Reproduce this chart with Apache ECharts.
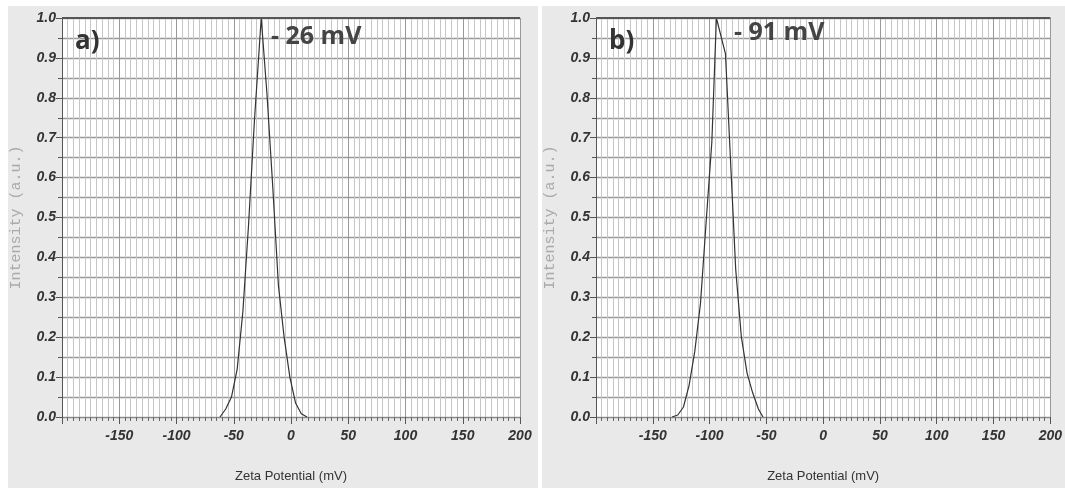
<!DOCTYPE html>
<html>
<head>
<meta charset="utf-8">
<script src="https://cdn.jsdelivr.net/npm/echarts@6/dist/echarts.min.js"></script>
<style>
  html, body { margin: 0; padding: 0; background: #fff; }
  #chart { width: 1065px; height: 488px; }
</style>
</head>
<body>
<div id="chart"></div>
<script>
// panel a) peak at -26 mV
const zetaA = [-62, -57, -52, -47, -42, -37, -32, -26, -21, -16, -11, -6, -1, 4, 9, 14];
const intensityA = [0, 0.02, 0.05, 0.12, 0.265, 0.485, 0.74, 1.0, 0.81, 0.58, 0.33, 0.20, 0.10, 0.035, 0.008, 0];

// panel b) peak at -91 mV
const zetaB = [-133, -128, -123, -118, -113, -108, -103, -98, -94, -86, -82, -77, -72, -67, -62, -57, -53];
const intensityB = [0, 0.005, 0.025, 0.08, 0.165, 0.285, 0.49, 0.69, 1.0, 0.91, 0.67, 0.37, 0.20, 0.11, 0.06, 0.02, 0];

const panelLabels = ['a)', 'b)'];
const peakLabels = ['- 26 mV', '- 91 mV'];
const xName = 'Zeta Potential (mV)';
const yName = 'Intensity (a.u.)';

const tickFont = {
  fontFamily: 'Liberation Sans, Arial, sans-serif',
  fontStyle: 'italic',
  fontWeight: 'bold',
  fontSize: 14,
  color: '#333'
};

function xAxisFor(gi) {
  return {
    type: 'value', gridIndex: gi, min: -200, max: 200, interval: 50,
    name: xName, nameLocation: 'middle', nameGap: 53,
    nameTextStyle: { fontFamily: 'Liberation Sans, Arial, sans-serif', fontSize: 13, color: '#333' },
    axisLine: { show: true, onZero: false, lineStyle: { color: '#888' } },
    axisTick: { show: true, length: 7, lineStyle: { color: '#555' } },
    minorTick: { show: true, splitNumber: 10, length: 4, lineStyle: { color: '#666' } },
    splitLine: { show: true, lineStyle: { color: '#999' } },
    minorSplitLine: { show: true, lineStyle: { color: '#c6c6c6' } },
    axisLabel: Object.assign({ showMinLabel: false, margin: 12 }, tickFont)
  };
}

function yAxisFor(gi) {
  return {
    type: 'value', gridIndex: gi, min: 0, max: 1, interval: 0.1,
    name: yName, nameLocation: 'middle', nameGap: 38,
    nameTextStyle: { fontFamily: 'Liberation Mono, DejaVu Sans Mono, monospace', fontSize: 15, color: '#aaa' },
    axisLine: { show: true, onZero: false, lineStyle: { color: '#555' } },
    axisTick: { show: true, length: 6, lineStyle: { color: '#555' } },
    minorTick: { show: true, splitNumber: 2, length: 4, lineStyle: { color: '#555' } },
    splitLine: { show: true, lineStyle: { color: '#999', width: 1.3 } },
    minorSplitLine: { show: true, lineStyle: { color: '#999', width: 1.3 } },
    axisLabel: Object.assign({ margin: 6, formatter: v => v.toFixed(1) }, tickFont)
  };
}

function seriesFor(gi, xs, ys) {
  return {
    type: 'line', xAxisIndex: gi, yAxisIndex: gi,
    data: xs.map((x, i) => [x, ys[i]]),
    showSymbol: false, smooth: false, silent: true,
    lineStyle: { color: '#333', width: 1.2 },
    markLine: {
      silent: true, symbol: 'none', label: { show: false },
      lineStyle: { color: '#555', width: 2, type: 'solid' },
      data: [{ yAxis: 1 }]
    }
  };
}

const chart = echarts.init(document.getElementById('chart'));
chart.setOption({
  backgroundColor: '#fff',
  animation: false,
  graphic: [
    { type: 'rect', z: -10, silent: true, shape: { x: 8, y: 6, width: 530, height: 482 }, style: { fill: '#e9e9e9' } },
    { type: 'rect', z: -10, silent: true, shape: { x: 542, y: 6, width: 523, height: 482 }, style: { fill: '#e9e9e9' } },
    { type: 'text', z: 10, left: 75, top: 29, style: { text: panelLabels[0], font: 'bold 26px "Open Sans", sans-serif', fill: '#333' } },
    { type: 'text', z: 10, left: 271, top: 24, style: { text: peakLabels[0], font: 'bold 25px "Open Sans", sans-serif', fill: '#444' } },
    { type: 'text', z: 10, left: 609, top: 29, style: { text: panelLabels[1], font: 'bold 26px "Open Sans", sans-serif', fill: '#333' } },
    { type: 'text', z: 10, left: 734, top: 20, style: { text: peakLabels[1], font: 'bold 25px "Open Sans", sans-serif', fill: '#444' } }
  ],
  grid: [
    { left: 62, top: 18, width: 458, height: 406, show: true, backgroundColor: '#fff', borderWidth: 0 },
    { left: 596, top: 18, width: 458, height: 406, show: true, backgroundColor: '#fff', borderWidth: 0 }
  ],
  xAxis: [xAxisFor(0), xAxisFor(1)],
  yAxis: [yAxisFor(0), yAxisFor(1)],
  series: [seriesFor(0, zetaA, intensityA), seriesFor(1, zetaB, intensityB)]
});
</script>
</body>
</html>
